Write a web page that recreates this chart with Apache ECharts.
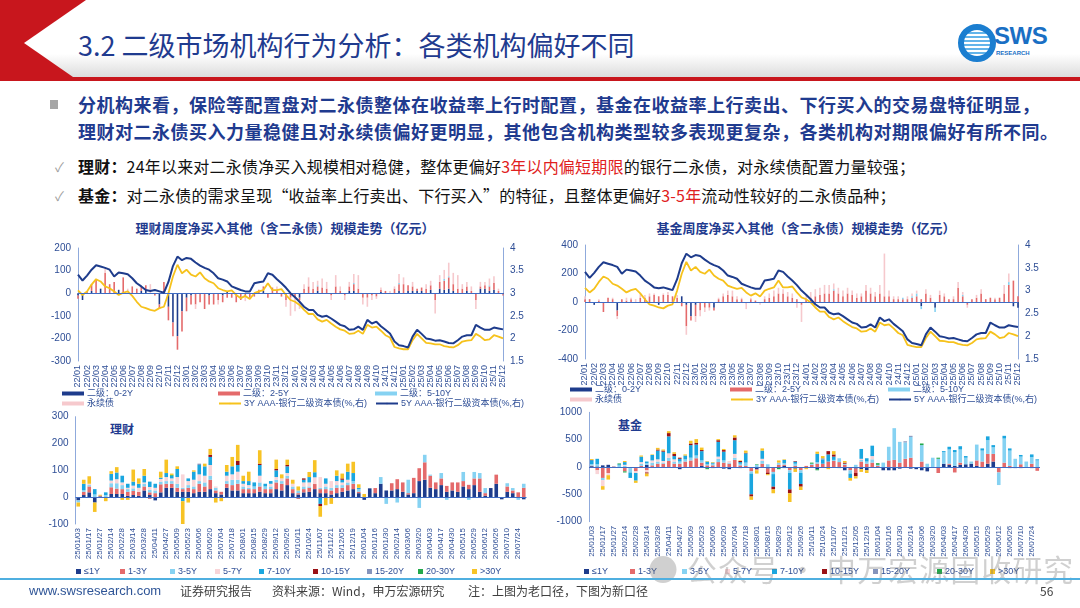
<!DOCTYPE html>
<html>
<head>
<meta charset="utf-8">
<script src="https://cdn.jsdelivr.net/npm/echarts@6/dist/echarts.min.js"></script>
<style>
html, body { margin: 0; padding: 0; width: 1080px; height: 608px; overflow: hidden; background: #fff; font-family: "Noto Sans CJK SC", sans-serif; }
.abs { position: absolute; white-space: nowrap; }
#hdrRed { left: 0; top: 0; width: 1080px; height: 81px; background: #C8161D; }
#hdrWhite { left: 0; top: 0; width: 1080px; height: 77px; background: linear-gradient(#fff 0%, #fff 70%, #dcdcdc 100%);
  clip-path: polygon(86px 0, 1080px 0, 1080px 77px, 73px 77px, 24px 43px); }
#title { left: 78px; top: 26px; font-size: 27px; line-height: 37px; color: #1F3B8F; }
#logoRing { left: 958px; top: 24px; width: 26px; height: 26px; border-radius: 50%; border: 6px solid #1B7ED0; background: repeating-linear-gradient(#fff 0 2px, #63B4EA 2px 4px); }
#logoText { left: 994px; top: 22px; font-family: "Liberation Sans", sans-serif; font-weight: bold; font-size: 24px; color: #1A6FC4; letter-spacing: -0.5px; }
#logoSub { left: 996px; top: 50px; font-family: "Liberation Sans", sans-serif; font-weight: bold; font-size: 6px; color: #1A6FC4; }
#sq { left: 50px; top: 100px; width: 8px; height: 9px; background: #A6A6A6; }
#lead { left: 78px; top: 91px; font-size: 18px; line-height: 27px; font-weight: bold; color: #1F3B8F; letter-spacing: 0.5px; }
.chk { left: 55px; font-size: 13px; color: #A0A0A0; }
.item { left: 78px; font-size: 16px; line-height: 20px; color: #111; letter-spacing: 0.2px; }
.item b { font-weight: bold; }
.red { color: #E02020; }
.ctitle { font-size: 13px; font-weight: bold; color: #1F3B8F; width: 400px; text-align: center; }
.tag { font-size: 12px; font-weight: bold; color: #1F3B8F; }
#chart { position: absolute; left: 0; top: 0; width: 1080px; height: 608px; }
#footLine { left: 0; top: 578px; width: 1080px; height: 2px; background: #4FAFE0; }
.foot { top: 583px; font-size: 12px; line-height: 16px; color: #404040; }
#wm { left: 648px; top: 546px; font-size: 30px; color: rgba(110,110,110,0.32); letter-spacing: 1px; }
</style>
</head>
<body>
<div id="hdrRed" class="abs"></div>
<div id="hdrWhite" class="abs"></div>
<div id="title" class="abs">3.2 二级市场机构行为分析：各类机构偏好不同</div>
<div id="logoRing" class="abs"></div>
<div id="logoText" class="abs">SWS</div>
<div id="logoSub" class="abs">RESEARCH</div>

<div id="sq" class="abs"></div>
<div id="lead" class="abs">分机构来看，保险等配置盘对二永债整体在收益率上行时配置，基金在收益率上行卖出、下行买入的交易盘特征明显，<br>理财对二永债买入力量稳健且对永续债偏好更明显，其他包含机构类型较多表现更复杂，各类机构对期限偏好有所不同。</div>
<div class="abs chk" style="top:157px;">✓</div>
<div class="abs item" style="top:156px;"><b>理财：</b>24年以来对二永债净买入规模相对稳健，整体更偏好<span class="red">3年以内偏短期限</span>的银行二永债，对永续债配置力量较强；</div>
<div class="abs chk" style="top:186px;">✓</div>
<div class="abs item" style="top:185px;"><b>基金：</b>对二永债的需求呈现“收益率上行卖出、下行买入”的特征，且整体更偏好<span class="red">3-5年</span>流动性较好的二永债品种；</div>

<div class="abs ctitle" style="left:85px;top:218px;">理财周度净买入其他（含二永债）规模走势（亿元）</div>
<div class="abs ctitle" style="left:606px;top:218px;">基金周度净买入其他（含二永债）规模走势（亿元）</div>
<div class="abs tag" style="left:110px;top:420px;">理财</div>
<div class="abs tag" style="left:618px;top:416px;">基金</div>

<div id="chart"></div>

<div id="wm" class="abs">● 公众号 · 申万宏源固收研究</div>
<div id="footLine" class="abs"></div>
<div class="abs foot" style="left:29px;color:#2F5597;font-family:'Liberation Sans',sans-serif;font-size:13px;">www.swsresearch.com</div>
<div class="abs foot" style="left:180px;">证券研究报告</div>
<div class="abs foot" style="left:272px;">资料来源：Wind，申万宏源研究</div>
<div class="abs foot" style="left:468px;">注：上图为老口径，下图为新口径</div>
<div class="abs foot" style="left:1040px;">56</div>

<script>
// ---- top charts: half-month points, 22/01 .. 25/12 ----
const months = ['22/01','22/02','22/03','22/04','22/05','22/06','22/07','22/08','22/09','22/10','22/11','22/12',
  '23/01','23/02','23/03','23/04','23/05','23/06','23/07','23/08','23/09','23/10','23/11','23/12',
  '24/01','24/02','24/03','24/04','24/05','24/06','24/07','24/08','24/09','24/10','24/11','24/12',
  '25/01','25/02','25/03','25/04','25/05','25/06','25/07','25/08','25/09','25/10','25/11','25/12'];

const y3 = [3.06,2.96,3.04,3.19,3.31,3.26,3.15,3.11,3.04,2.96,
  3.01,3.04,2.94,2.81,2.70,2.67,2.63,2.61,2.67,2.70,
  3.00,3.37,3.63,3.44,3.52,3.41,3.37,3.46,3.33,3.26,
  3.22,3.11,3.07,3.04,3.06,2.96,2.89,2.94,2.87,3.00,
  3.04,3.07,3.22,3.07,3.07,3.09,2.96,2.85,2.81,2.74,
  2.63,2.54,2.54,2.42,2.37,2.41,2.33,2.26,2.20,2.17,
  2.10,2.11,2.17,2.10,2.30,2.24,2.26,2.17,2.07,2.02,
  1.81,1.78,1.76,1.76,1.96,2.10,2.00,1.90,1.89,1.87,
  1.87,1.83,1.81,1.80,1.85,1.93,1.95,1.96,2.10,2.04,
  1.96,1.98,2.07,2.04,2.00];
const y5 = [3.41,3.28,3.39,3.52,3.62,3.59,3.56,3.52,3.37,3.46,
  3.44,3.42,3.33,3.22,3.15,3.07,3.05,3.07,3.04,3.01,
  3.25,3.60,3.81,3.73,3.78,3.76,3.68,3.61,3.56,3.52,
  3.44,3.33,3.30,3.26,3.15,3.11,3.07,3.04,3.04,3.22,
  3.24,3.26,3.44,3.41,3.31,3.22,3.12,3.00,2.91,2.81,
  2.70,2.63,2.63,2.52,2.48,2.50,2.44,2.37,2.30,2.27,
  2.19,2.20,2.26,2.19,2.41,2.33,2.37,2.27,2.19,2.11,
  1.93,1.85,1.83,1.80,2.04,2.19,2.10,2.00,1.98,1.95,
  1.96,1.93,1.90,1.89,1.96,2.04,2.07,2.07,2.30,2.24,
  2.19,2.19,2.24,2.22,2.20];

// 理财 (old)
const wmT02 = [-10,-30,0,10,0,20,0,0,0,15, 0,0,0,0,10,15,0,0,-50,0, -60,-130,-190,-80,-20,-10,0,0,0,-10,
  0,0,-10,10,0,0,0,0,0,0, 0,10,0,0,0,0,0,0,0,-20, 0,0,0,10,0,0,0,0,0,0,
  10,10,0,0,0,0,0,5,0,0, 0,10,0,10,10,10,10,0,15,0, 20,15,20,10,0,0,10,0,0,20, 20,10,15,0,-5];
const wmT25 = [-15,0,10,30,60,0,90,40,50,0, 70,0,30,20,20,20,0,-10,-20,50, -60,-60,-60,-90,-60,-40,-50,-40,-70,-40,
  -50,-30,-30,-20,-20,-40,-30,-15,-20,-15, 15,20,-20,25,15,-15,-30,-20,-20,-10, 20,30,20,20,25,20,-10,30,10,-10,
  20,30,20,-20,-20,-10,-15,10,10,0, 20,30,40,25,20,10,15,20,20,-30, 30,40,50,30,20,20,20,10,-30,10, 15,20,30,10,-5];
const wmT510 = [0,0,0,0,0,0,0,0,0,0, 0,0,0,0,0,0,0,0,0,0, 0,0,0,0,0,0,0,0,0,0,
  0,0,0,0,0,0,0,0,0,0, 0,0,0,0,0,0,0,0,0,0, 0,0,0,5,0,0,0,0,0,0,
  0,5,0,0,0,0,0,0,0,0, 0,5,0,0,0,0,0,0,0,0, 0,8,5,0,0,0,0,0,0,0, 0,5,0,0,0];
const wmPerp = [0,0,0,0,0,0,20,0,0,0, 0,20,0,0,0,0,40,0,0,0, 0,0,0,0,0,0,-20,0,0,0,
  0,-20,0,0,0,0,0,-20,0,0, 0,0,0,0,15,0,-30,-80,-60,-40, 20,40,30,20,40,30,-20,50,20,-20,
  20,40,60,-30,-40,-20,-10,10,0,10, 10,40,30,0,20,0,0,20,20,-60, 30,40,60,50,60,20,20,20,-40,20, 15,30,30,10,0];

// 基金 (old)
const fdT02 = [0,0,-20,0,0,0,0,-60,0,0, 0,0,0,0,0,0,-20,0,0,0, 0,40,-20,-100,-20,0,0,-10,-40,0,
  0,0,0,0,0,0,0,0,0,0, 0,0,0,0,0,0,0,0,0,0, 0,0,0,0,0,0,0,0,0,0,
  0,0,0,0,0,0,0,0,0,0, 0,0,0,-30,0,0,-40,0,0,0, 0,0,0,0,0,0,0,0,0,0, 0,0,0,-30,-40];
const fdT25 = [20,20,0,10,-70,30,20,-40,20,10, 20,0,30,30,40,50,40,50,50,40, 30,-30,-150,-30,-80,-60,-40,-30,-20,20,
  40,50,40,20,20,-10,20,10,0,20, 30,40,60,60,40,30,20,-20,20,30, 40,50,60,60,80,60,40,60,50,30,
  40,80,60,40,60,40,40,20,20,20, 20,30,40,20,60,30,0,50,40,20, 20,100,40,-20,20,30,60,20,30,20, 30,60,120,150,40];
const fdT510 = [0,0,0,0,0,0,0,0,0,0, 0,0,0,0,0,0,0,0,0,0, 0,0,0,0,0,0,0,0,0,0,
  0,0,0,0,0,0,0,0,0,0, 0,0,0,0,0,0,0,0,0,0, 0,0,0,0,10,0,0,0,0,0,
  0,0,0,0,0,0,0,0,0,10, 0,10,20,-20,0,0,-30,0,0,0, 0,0,10,0,0,0,0,0,0,0, 0,0,20,0,0];
const fdPerp = [20,0,0,10,0,0,10,-20,0,20, 10,20,30,20,20,10,0,10,20,0, 20,0,-60,0,-40,-40,-30,-20,0,10,
  20,30,40,20,10,-40,10,0,-20,20, 30,40,40,30,30,30,-40,-120,20,40, 50,50,60,60,40,40,40,40,30,30,
  20,40,40,30,60,300,40,20,20,0, 20,20,20,0,30,20,0,30,20,0, 20,40,20,-20,0,20,30,0,0,10, 0,60,60,0,0];

// ---- bottom charts: weekly, new definition ----
const weeks = ['25/01/03','25/01/10','25/01/17','25/01/24','25/01/27','25/02/07','25/02/14','25/02/21','25/02/28','25/03/07',
  '25/03/14','25/03/21','25/03/28','25/04/03','25/04/11','25/04/18','25/04/27','25/04/30','25/05/09','25/05/16',
  '25/05/23','25/05/30','25/06/06','25/06/13','25/06/20','25/06/27','25/07/04','25/07/11','25/07/18','25/07/25',
  '25/08/01','25/08/08','25/08/15','25/08/22','25/08/29','25/09/05','25/09/12','25/09/19','25/09/26','25/09/30',
  '25/10/11','25/10/17','25/10/24','25/10/31','25/11/07','25/11/14','25/11/21','25/11/28','25/12/05','25/12/12',
  '25/12/19','25/12/26','26/01/04','26/01/09','26/01/16','26/01/23','26/01/30','26/02/06','26/02/14','26/02/27',
  '26/03/06','26/03/13','26/03/20','26/03/27','26/04/03','26/04/10','26/04/17','26/04/24','26/04/30','26/05/08',
  '26/05/15','26/05/22','26/05/29','26/06/05','26/06/12','26/06/19','26/06/26','26/07/03','26/07/10','26/07/17',
  '26/07/24','26/07/31'];
const tenors = ['≤1Y','1-3Y','3-5Y','5-7Y','7-10Y','10-15Y','15-20Y','20-30Y','>30Y'];

const wmLe1 = [-12,8,18,-20,3,0,12,12,12,5, 8,5,25,8,-12,18,35,35,20,20, 20,15,20,20,30,15,10,35,25,25,
  15,15,15,20,15,15,30,25,45,15, 10,18,20,30,15,15,10,15,20,25, 30,15,-10,33,15,50,25,25,30,20,
  10,15,60,65,35,30,45,20,25,20, 40,30,45,20,5,34,50,-8,20,15, 0,-8];
const wm13 = [0,12,22,0,3,0,25,20,18,15, 15,15,15,10,15,30,15,15,15,10, 15,15,30,20,35,10,10,15,20,25,
  15,15,15,20,15,15,25,25,25,15, 5,12,15,19,15,15,15,20,15,20, 20,5,0,0,19,0,0,27,37,35,
  5,57,48,65,45,25,25,22,30,35, 20,16,25,50,10,0,34,0,20,10, 18,35];
const wm35 = [-8,6,5,10,0,8,15,20,15,10, 10,0,10,10,10,10,10,10,15,5, 10,10,10,15,15,10,0,10,20,15,
  10,5,10,15,10,10,10,10,10,10, 10,10,5,0,5,10,10,10,10,10, 10,10,0,0,0,25,-25,0,-20,0,
  50,0,-40,28,4,0,20,-10,0,0, 34,-10,24,20,19,0,0,0,12,9, -10,15];
const wm57 = [0,0,5,0,0,0,10,15,10,5, 10,15,5,10,10,10,15,10,25,50, 15,25,25,25,40,5,0,20,20,30,
  10,10,0,25,0,10,10,10,10,10, 0,15,15,25,40,10,25,15,10,10, 0,0,0,0,0,0,0,0,0,0,
  0,0,0,0,0,0,0,0,0,0, 0,0,0,0,0,0,0,0,0,0, 0,0];
const wm710 = [0,24,0,20,0,10,25,25,25,15, 15,15,25,20,15,5,15,10,30,-15, 10,30,35,35,30,0,0,15,30,25,
  10,15,15,40,10,10,25,0,25,0, 0,10,20,19,-25,20,0,20,10,30, 30,5,0,0,0,0,0,0,0,0,
  0,0,0,0,0,0,0,0,0,0, 0,0,0,0,0,0,0,0,0,0, 0,0];
const wm1015 = [0,0,0,0,0,0,0,0,0,0, 0,0,0,-5,0,0,0,0,0,0, 0,0,0,0,8,0,0,0,0,15,
  0,0,0,5,0,0,5,0,5,0, -5,5,0,0,-8,0,0,0,5,0, 0,0,0,0,0,0,0,0,0,0,
  0,0,0,0,0,0,0,0,0,0, 0,0,0,0,0,0,0,0,0,0, 0,0];
const wm1520 = [0,0,0,0,0,0,0,0,0,0, 0,0,0,0,0,0,0,0,0,0, 0,0,5,0,0,0,0,0,0,0,
  0,0,0,0,0,0,0,0,0,0, 0,0,0,0,0,0,0,0,0,0, 0,0,0,0,0,0,0,0,0,0,
  0,0,0,0,0,0,0,0,0,0, 0,0,0,0,0,0,0,0,0,0, 0,0];
const wm2030 = [0,0,0,0,0,0,0,0,0,0, 0,0,0,0,0,0,0,3,0,0, 0,0,0,0,0,0,0,0,0,0,
  0,0,0,0,0,0,0,0,0,0, 0,0,0,0,0,0,0,0,0,0, 0,0,0,0,0,0,0,0,0,0,
  0,0,0,0,0,0,0,0,0,0, 0,0,0,0,0,0,0,0,0,0, 0,0];
const wmGt30 = [-15,15,28,-35,3,-15,10,20,-10,-10, 45,20,25,0,0,22,50,5,10,-85, -20,5,0,10,22,-20,-15,25,35,60,
  20,35,0,50,0,0,35,15,20,15, 15,0,19,45,-40,-30,-25,20,18,30, 42,13,12,0,0,0,0,0,0,0,
  0,0,0,0,0,0,0,0,0,0, 0,0,0,0,0,0,0,0,0,0, 0,0];

const fdLe1 = [15,10,30,40,5,0,-20,-20,-20,0, 40,0,0,0,0,0,-40,0,0,0, 20,-20,0,0,-30,-40,0,-20,0,-20,
  -40,0,-30,0,0,20,0,-30,0,0, 0,-40,0,0,0,0,-60,0,-30,-40, -60,0,0,-60,-60,-60,-30,0,-30,-40,
  -60,-80,0,0,60,40,20,40,50,60, 20,0,60,100,0,0,-20,-20,-20,0, -20,-20];
const fd13 = [10,-60,-200,-110,5,0,-60,0,-60,20, -60,30,60,60,110,60,60,100,120,160, 60,30,30,90,80,60,130,30,20,-60,
  -20,60,-70,-90,40,20,-60,20,-60,20, 40,60,60,100,110,90,40,-60,-80,100, 60,80,20,0,120,130,80,150,170,0,
  100,0,0,-110,0,20,-100,40,0,0, 100,100,180,140,-100,80,20,0,50,0, 60,-50];
const fd35 = [30,40,-40,0,0,30,20,-80,0,40, 30,50,40,20,60,40,40,40,50,50, 40,20,30,60,40,20,40,30,60,-40,
  40,50,50,-40,40,30,-50,40,-50,-20, 20,30,0,0,20,70,20,-60,40,30, 40,60,20,80,250,580,380,300,380,0,
  300,60,170,150,210,260,250,240,120,40, 290,200,250,120,-230,440,280,150,140,100, 120,120];
const fd57 = [0,-70,-110,-40,0,0,20,0,-30,30, -40,40,40,30,80,40,0,0,0,0, 0,0,0,40,0,30,70,0,0,0,
  0,40,0,0,0,0,0,0,0,0, 0,0,0,0,0,0,0,0,0,20, 0,60,0,0,0,0,0,0,0,0,
  0,0,0,0,0,0,0,0,0,0, 0,0,0,0,0,0,0,0,0,0, 0,0];
const fd710 = [70,100,0,0,0,20,50,-100,-140,100, 30,100,160,170,310,60,50,70,230,200, 170,50,20,270,160,0,250,30,170,-380,
  0,150,0,-230,0,60,-300,40,-200,0, 0,150,80,130,60,0,0,-80,0,180, 60,190,0,0,0,0,0,0,0,0,
  0,0,0,0,20,50,40,60,30,0, 0,40,70,40,0,50,40,0,30,0, 50,20];
const fd1015 = [5,0,0,0,0,0,0,0,0,0, -20,0,20,20,60,40,20,0,30,30, 20,0,0,30,30,0,50,20,10,-40,
  0,0,-30,-50,0,0,-70,10,-50,0, 0,0,0,60,40,0,20,0,-60,0, 0,0,0,0,0,0,0,0,0,0,
  0,0,0,0,0,0,0,0,0,0, 0,0,0,0,0,0,0,0,0,0, 0,0];
const fd1520 = [0,0,0,0,0,0,0,0,0,0, 0,0,0,0,0,0,0,0,0,0, 0,0,0,0,0,0,0,0,0,0,
  0,0,0,0,0,0,0,0,0,0, 0,0,20,0,0,0,0,0,0,0, 0,0,0,0,0,0,0,20,20,0,
  0,0,0,0,0,0,0,0,0,0, 0,0,0,0,0,0,0,0,0,0, 0,0];
const fd2030 = [0,0,0,0,0,15,-20,0,0,0, 0,0,0,0,0,0,0,0,0,0, 0,-20,-20,0,0,0,0,0,0,0,
  10,0,0,0,-40,-20,0,0,0,0, 20,-20,0,0,0,-20,0,0,0,0, 0,0,30,0,0,0,0,0,0,0,
  30,0,0,20,0,0,0,0,0,0, 0,0,0,0,0,0,0,0,0,0, 0,0];
const fdGt30 = [16,0,-65,-80,0,0,20,0,-40,20, -50,10,30,20,35,30,0,20,50,70, 45,10,10,20,20,0,40,10,40,-60,
  -60,40,-20,-70,40,10,-160,-60,-60,-20, 0,40,40,-40,60,0,30,-50,-40,-50, -50,0,0,0,0,0,0,0,0,0,
  0,0,0,0,0,0,0,0,0,0, 0,0,0,0,0,0,0,0,0,0, 0,0];

// ---- build ----
const topCats = [];
months.forEach((m, i) => { topCats.push(m); if (i < months.length - 1) topCats.push(m + ' '); });

const AX = '#2E4E96';
const FONT = '"Liberation Sans", "Noto Sans CJK SC", sans-serif';
const C = { navy: '#1E3C8C', red: '#E46A6B', sky: '#86D2F2', pink: '#F6C9CD', yellow: '#F6C21C',
  blue: '#1AA6DF', dred: '#9A1115', grey: '#8594BC', green: '#23A94B', gold: '#F7C325', pink2: '#F9D5D8' };
const topNames = ['二级：0-2Y', '二级：2-5Y', '二级：5-10Y', '永续债', '3Y AAA-银行二级资本债(%,右)', '5Y AAA-银行二级资本债(%,右)'];
const tenorColors = [C.navy, C.red, C.sky, C.pink2, C.blue, C.dred, C.grey, C.green, C.gold];

const chart = echarts.init(document.getElementById('chart'));

function zeroLine() {
  return { silent: true, symbol: ['none', 'none'], label: { show: false }, animation: false,
    lineStyle: { color: '#3F6CC4', width: 1, type: 'solid' }, data: [{ yAxis: 0 }] };
}
function valAxis(grid, min, max, interval, pos) {
  return { type: 'value', gridIndex: grid, min: min, max: max, interval: interval, position: pos || 'left',
    axisLine: { show: true, lineStyle: { color: '#8FAADC' } }, axisTick: { show: false }, splitLine: { show: false },
    axisLabel: { fontSize: 10, color: AX, fontFamily: FONT, margin: 7, formatter: v => String(v) } };
}
function catAxis(grid, data, gap, size) {
  return { type: 'category', gridIndex: grid, data: data, boundaryGap: gap,
    axisLine: { show: false, onZero: false }, axisTick: { show: false },
    axisLabel: { interval: 1, rotate: 90, fontSize: size, color: AX, fontFamily: FONT, margin: 4 } };
}

const series = [];
function topSeries(grid, xi, yl, yr, bars) {
  const cols = [C.navy, C.red, C.sky, C.pink];
  bars.forEach((d, k) => {
    const s = { name: topNames[k], type: 'bar', stack: 't' + grid, xAxisIndex: xi, yAxisIndex: yl, data: d,
      barWidth: 1.6, itemStyle: { color: cols[k] } };
    if (k === 0) s.markLine = zeroLine();
    series.push(s);
  });
  series.push({ name: topNames[4], type: 'line', xAxisIndex: xi, yAxisIndex: yr, data: y3, symbol: 'none', z: 4,
    lineStyle: { color: C.yellow, width: 1.8 }, itemStyle: { color: C.yellow } });
  series.push({ name: topNames[5], type: 'line', xAxisIndex: xi, yAxisIndex: yr, data: y5, symbol: 'none', z: 5,
    lineStyle: { color: C.navy, width: 2 }, itemStyle: { color: C.navy } });
}
topSeries(0, 0, 0, 1, [wmT02, wmT25, wmT510, wmPerp]);
topSeries(1, 1, 2, 3, [fdT02, fdT25, fdT510, fdPerp]);

function weekSeries(xi, yi, groups, st) {
  groups.forEach((d, k) => {
    const s = { name: tenors[k], type: 'bar', stack: st, xAxisIndex: xi, yAxisIndex: yi, data: d,
      barWidth: 3.6, itemStyle: { color: tenorColors[k] } };
    if (k === 0) s.markLine = zeroLine();
    series.push(s);
  });
}
weekSeries(2, 4, [wmLe1, wm13, wm35, wm57, wm710, wm1015, wm1520, wm2030, wmGt30], 'wm');
weekSeries(3, 5, [fdLe1, fd13, fd35, fd57, fd710, fd1015, fd1520, fd2030, fdGt30], 'fd');

// one legend per item so the columns line up like the original
const legends = [];
function legItem(name, x, y, w, h, icon) {
  const it = { name: name };
  if (icon) it.icon = icon;
  legends.push({ left: x, top: y, data: [it], selectedMode: false, padding: 0, itemGap: 0,
    itemWidth: w, itemHeight: h, textStyle: { fontSize: 9, color: AX, fontFamily: FONT, padding: [0, 0, 0, -2] } });
}
[[62, 218, 375, 389, 399], [570, 730, 888, 385, 395]].forEach(p => {
  topNames.forEach((n, k) => {
    const col = k % 3, row = Math.floor(k / 3);
    const isLine = k >= 4;
    legItem(n, p[col], row ? p[4] : p[3], 22, isLine ? 2 : 4, isLine ? null : 'rect');
  });
});
[[76, 120, 170, 215, 259, 313, 367, 418, 472], [584, 630, 682, 725, 772, 822, 873, 937, 990]].forEach(xs => {
  tenors.forEach((n, k) => legItem(n, xs[k], 567, 5, 5, 'rect'));
});

chart.setOption({
  animation: false,
  textStyle: { fontFamily: FONT },
  grid: [
    { left: 78, top: 248, width: 425, height: 113 },
    { left: 585, top: 245, width: 433, height: 114 },
    { left: 75.5, top: 416.7, width: 451, height: 107.3 },
    { left: 589, top: 412.3, width: 451, height: 109.4 }
  ],
  xAxis: [catAxis(0, topCats, false, 9), catAxis(1, topCats, false, 9), catAxis(2, weeks, true, 8), catAxis(3, weeks, true, 8)],
  yAxis: [valAxis(0, -300, 200, 100), valAxis(0, 1.5, 4, 0.5, 'right'),
    valAxis(1, -400, 400, 200), valAxis(1, 1.5, 4, 0.5, 'right'),
    valAxis(2, -100, 300, 100), valAxis(3, -1000, 1000, 500)],
  legend: legends,
  series: series
});
</script>
</body>
</html>
